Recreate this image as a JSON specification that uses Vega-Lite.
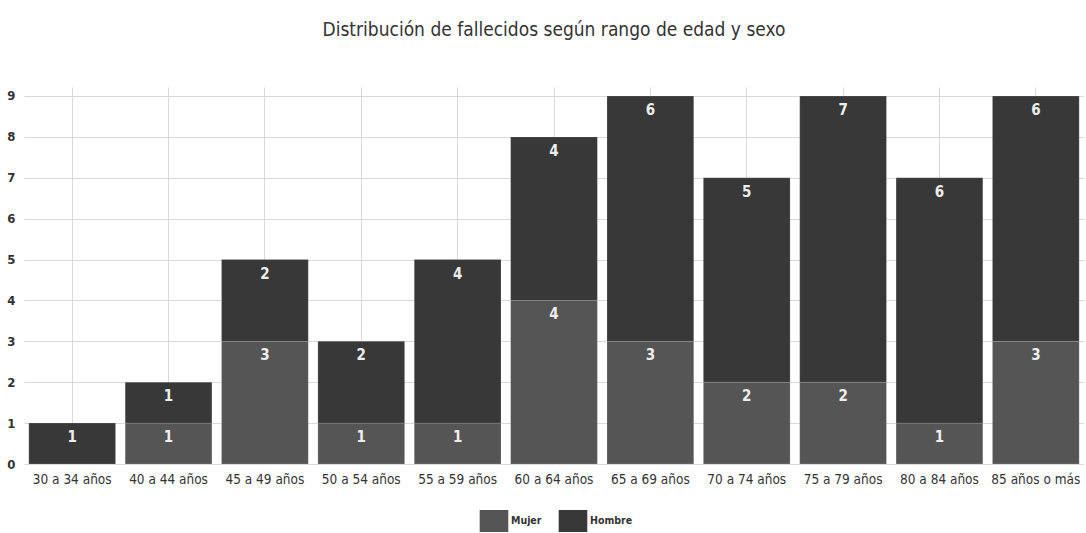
{
  "$schema": "https://vega.github.io/schema/vega-lite/v6.json",
  "autosize": {"type": "none"},
  "padding": {"left": 24, "top": 87, "right": 2, "bottom": 69},
  "width": 1060,
  "height": 377,
  "title": {"text": "Distribución de fallecidos según rango de edad y sexo", "fontSize": 19, "fontWeight": "normal", "color": "#333333", "offset": 47, "anchor": "middle"},
  "config": {
    "view": {"stroke": null},
    "font": "DejaVu Sans Condensed, sans-serif"
  },
  "data": {"values": [
    {"rango": "30 a 34 años", "sexo": "Hombre", "orden": 2, "n": 1},
    {"rango": "40 a 44 años", "sexo": "Mujer", "orden": 1, "n": 1},
    {"rango": "40 a 44 años", "sexo": "Hombre", "orden": 2, "n": 1},
    {"rango": "45 a 49 años", "sexo": "Mujer", "orden": 1, "n": 3},
    {"rango": "45 a 49 años", "sexo": "Hombre", "orden": 2, "n": 2},
    {"rango": "50 a 54 años", "sexo": "Mujer", "orden": 1, "n": 1},
    {"rango": "50 a 54 años", "sexo": "Hombre", "orden": 2, "n": 2},
    {"rango": "55 a 59 años", "sexo": "Mujer", "orden": 1, "n": 1},
    {"rango": "55 a 59 años", "sexo": "Hombre", "orden": 2, "n": 4},
    {"rango": "60 a 64 años", "sexo": "Mujer", "orden": 1, "n": 4},
    {"rango": "60 a 64 años", "sexo": "Hombre", "orden": 2, "n": 4},
    {"rango": "65 a 69 años", "sexo": "Mujer", "orden": 1, "n": 3},
    {"rango": "65 a 69 años", "sexo": "Hombre", "orden": 2, "n": 6},
    {"rango": "70 a 74 años", "sexo": "Mujer", "orden": 1, "n": 2},
    {"rango": "70 a 74 años", "sexo": "Hombre", "orden": 2, "n": 5},
    {"rango": "75 a 79 años", "sexo": "Mujer", "orden": 1, "n": 2},
    {"rango": "75 a 79 años", "sexo": "Hombre", "orden": 2, "n": 7},
    {"rango": "80 a 84 años", "sexo": "Mujer", "orden": 1, "n": 1},
    {"rango": "80 a 84 años", "sexo": "Hombre", "orden": 2, "n": 6},
    {"rango": "85 años o más", "sexo": "Mujer", "orden": 1, "n": 3},
    {"rango": "85 años o más", "sexo": "Hombre", "orden": 2, "n": 6}
  ]},
  "encoding": {
    "x": {"field": "rango", "type": "nominal", "sort": null,
      "scale": {"paddingInner": 0.1, "paddingOuter": 0.05},
      "axis": {"title": null, "labelAngle": 0, "labelFontSize": 13.5, "labelColor": "#333333", "labelPadding": 8, "ticks": false, "domain": false, "grid": true, "gridColor": "#d9d9d9"}},
    "y": {"field": "n", "type": "quantitative", "aggregate": "sum", "stack": "zero",
      "scale": {"domain": [0, 9.22], "nice": false},
      "axis": {"title": null, "values": [0,1,2,3,4,5,6,7,8,9], "labelFontSize": 13, "labelFontWeight": "bold", "labelColor": "#333333", "labelPadding": 9, "ticks": false, "domain": false, "grid": true, "gridColor": "#d9d9d9"}},
    "order": {"field": "orden", "type": "quantitative", "sort": "ascending"}
  },
  "layer": [
    {"mark": {"type": "bar", "stroke": "#ffffff", "strokeOpacity": 0.15, "strokeWidth": 1},
     "encoding": {
       "color": {"field": "sexo", "type": "nominal",
         "scale": {"domain": ["Mujer", "Hombre"], "range": ["#555555", "#383838"]},
         "legend": {"title": null, "orient": "none", "legendX": 459, "legendY": 423, "direction": "horizontal", "symbolType": "M-1.3,-1H1.3V1H-1.3Z", "symbolSize": 484, "symbolOpacity": 1, "symbolStrokeWidth": 0, "labelFontSize": 10.5, "labelFontWeight": "bold", "labelColor": "#333333", "columnPadding": 16, "labelOffset": 6}}
     }},
    {"mark": {"type": "text", "baseline": "top", "dy": 7, "color": "#eeeeee", "fontSize": 15, "fontWeight": "bold"},
     "encoding": {
       "text": {"field": "n", "type": "quantitative", "aggregate": "sum"}
     }}
  ]
}
